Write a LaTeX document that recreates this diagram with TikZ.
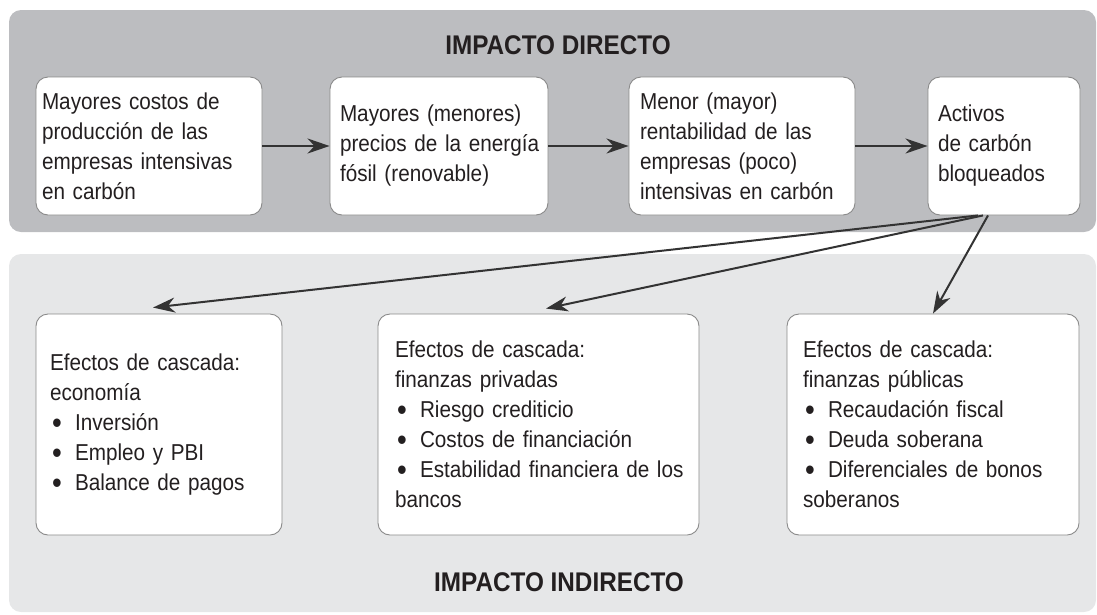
\documentclass[tikz,border=0pt]{standalone}
\usepackage{fontspec}
\setmainfont{Liberation Sans}[FakeStretch=0.9]
\usetikzlibrary{arrows.meta}
\definecolor{topband}{HTML}{BCBDC0}
\definecolor{botband}{HTML}{E6E7E8}
\definecolor{boxgray}{HTML}{8A8A8A}
\definecolor{arrgray}{HTML}{333333}
\definecolor{titlecol}{HTML}{231F20}
\newcommand{\bitem}{\makebox[25pt][l]{\hspace{2pt}\raisebox{-2.6pt}{\fontsize{31}{30}\selectfont\textbullet}}}
\tikzset{
  band/.style={rounded corners=12pt, draw=none},
  box/.style={draw=boxgray, fill=white, rounded corners=12pt, line width=0.9pt,
    align=left, inner ysep=0pt, text=titlecol,
    font=\fontsize{23}{30}\selectfont},
  title/.style={font=\fontsize{27}{30}\selectfont\bfseries, text=titlecol, inner sep=0pt},
  arr/.style={draw=arrgray, line width=2pt,
    -{Stealth[length=22pt,width=15pt,inset=7pt]}}
}
\begin{document}
\begin{tikzpicture}[x=1pt,y=-1pt]
\useasboundingbox (0,0) rectangle (1097,614);
% bands
\fill[band, topband] (9,10) rectangle (1096,232);
\fill[band, botband] (9,254) rectangle (1096,612);
% titles
\node[title] (t1) at (558,45) {IMPACTO DIRECTO};
\node[title] (t2) at (559,582) {IMPACTO INDIRECTO};
% top boxes
\node[box, text width=214pt, inner xsep=6pt, minimum height=138pt] (b1) at (149,146)
  {\mbox{Mayores costos de}\\\mbox{producción de las}\\\mbox{empresas intensivas}\\\mbox{en carbón}};
\node[box, text width=198pt, inner xsep=10pt, minimum height=138pt] (b2) at (439,146)
  {\mbox{Mayores (menores)}\\\mbox{precios de la energía}\\\mbox{fósil (renovable)}};
\node[box, text width=204pt, inner xsep=11pt, minimum height=138pt] (b3) at (742,146)
  {\mbox{Menor (mayor)}\\\mbox{rentabilidad de las}\\\mbox{empresas (poco)}\\\mbox{intensivas en carbón}};
\node[box, text width=132pt, inner xsep=10pt, minimum height=138pt] (b4) at (1004,146)
  {\mbox{Activos}\\\mbox{de carbón}\\\mbox{bloqueados}};
% bottom boxes
\node[box, text width=218pt, inner xsep=14pt, minimum height=221pt] (bA) at (159,424.5)
  {\mbox{Efectos de cascada:}\\\mbox{economía}\\\mbox{\bitem Inversión}\\\mbox{\bitem Empleo y PBI}\\\mbox{\bitem Balance de pagos}};
\node[box, text width=287pt, inner xsep=17pt, minimum height=221pt] (bB) at (538.5,424.5)
  {\mbox{Efectos de cascada:}\\\mbox{finanzas privadas}\\\mbox{\bitem Riesgo crediticio}\\\mbox{\bitem Costos de financiación}\\\mbox{\bitem Estabilidad financiera de los}\\\mbox{bancos}};
\node[box, text width=260pt, inner xsep=16pt, minimum height=221pt] (bC) at (933,424.5)
  {\mbox{Efectos de cascada:}\\\mbox{finanzas públicas}\\\mbox{\bitem Recaudación fiscal}\\\mbox{\bitem Deuda soberana}\\\mbox{\bitem Diferenciales de bonos}\\\mbox{soberanos}};
% arrows
\draw[arr] (b1.east) -- (b2.west);
\draw[arr] (b2.east) -- (b3.west);
\draw[arr] (b3.east) -- (b4.west);
\draw[arr] ([xshift=-26pt]b4.south) -- ([xshift=-6pt,yshift=6pt]bA.north);
\draw[arr] ([xshift=-21pt]b4.south) -- ([xshift=7.5pt,yshift=5pt]bB.north);
\draw[arr] ([xshift=-16pt]b4.south) -- (bC.north);
\end{tikzpicture}
\end{document}
